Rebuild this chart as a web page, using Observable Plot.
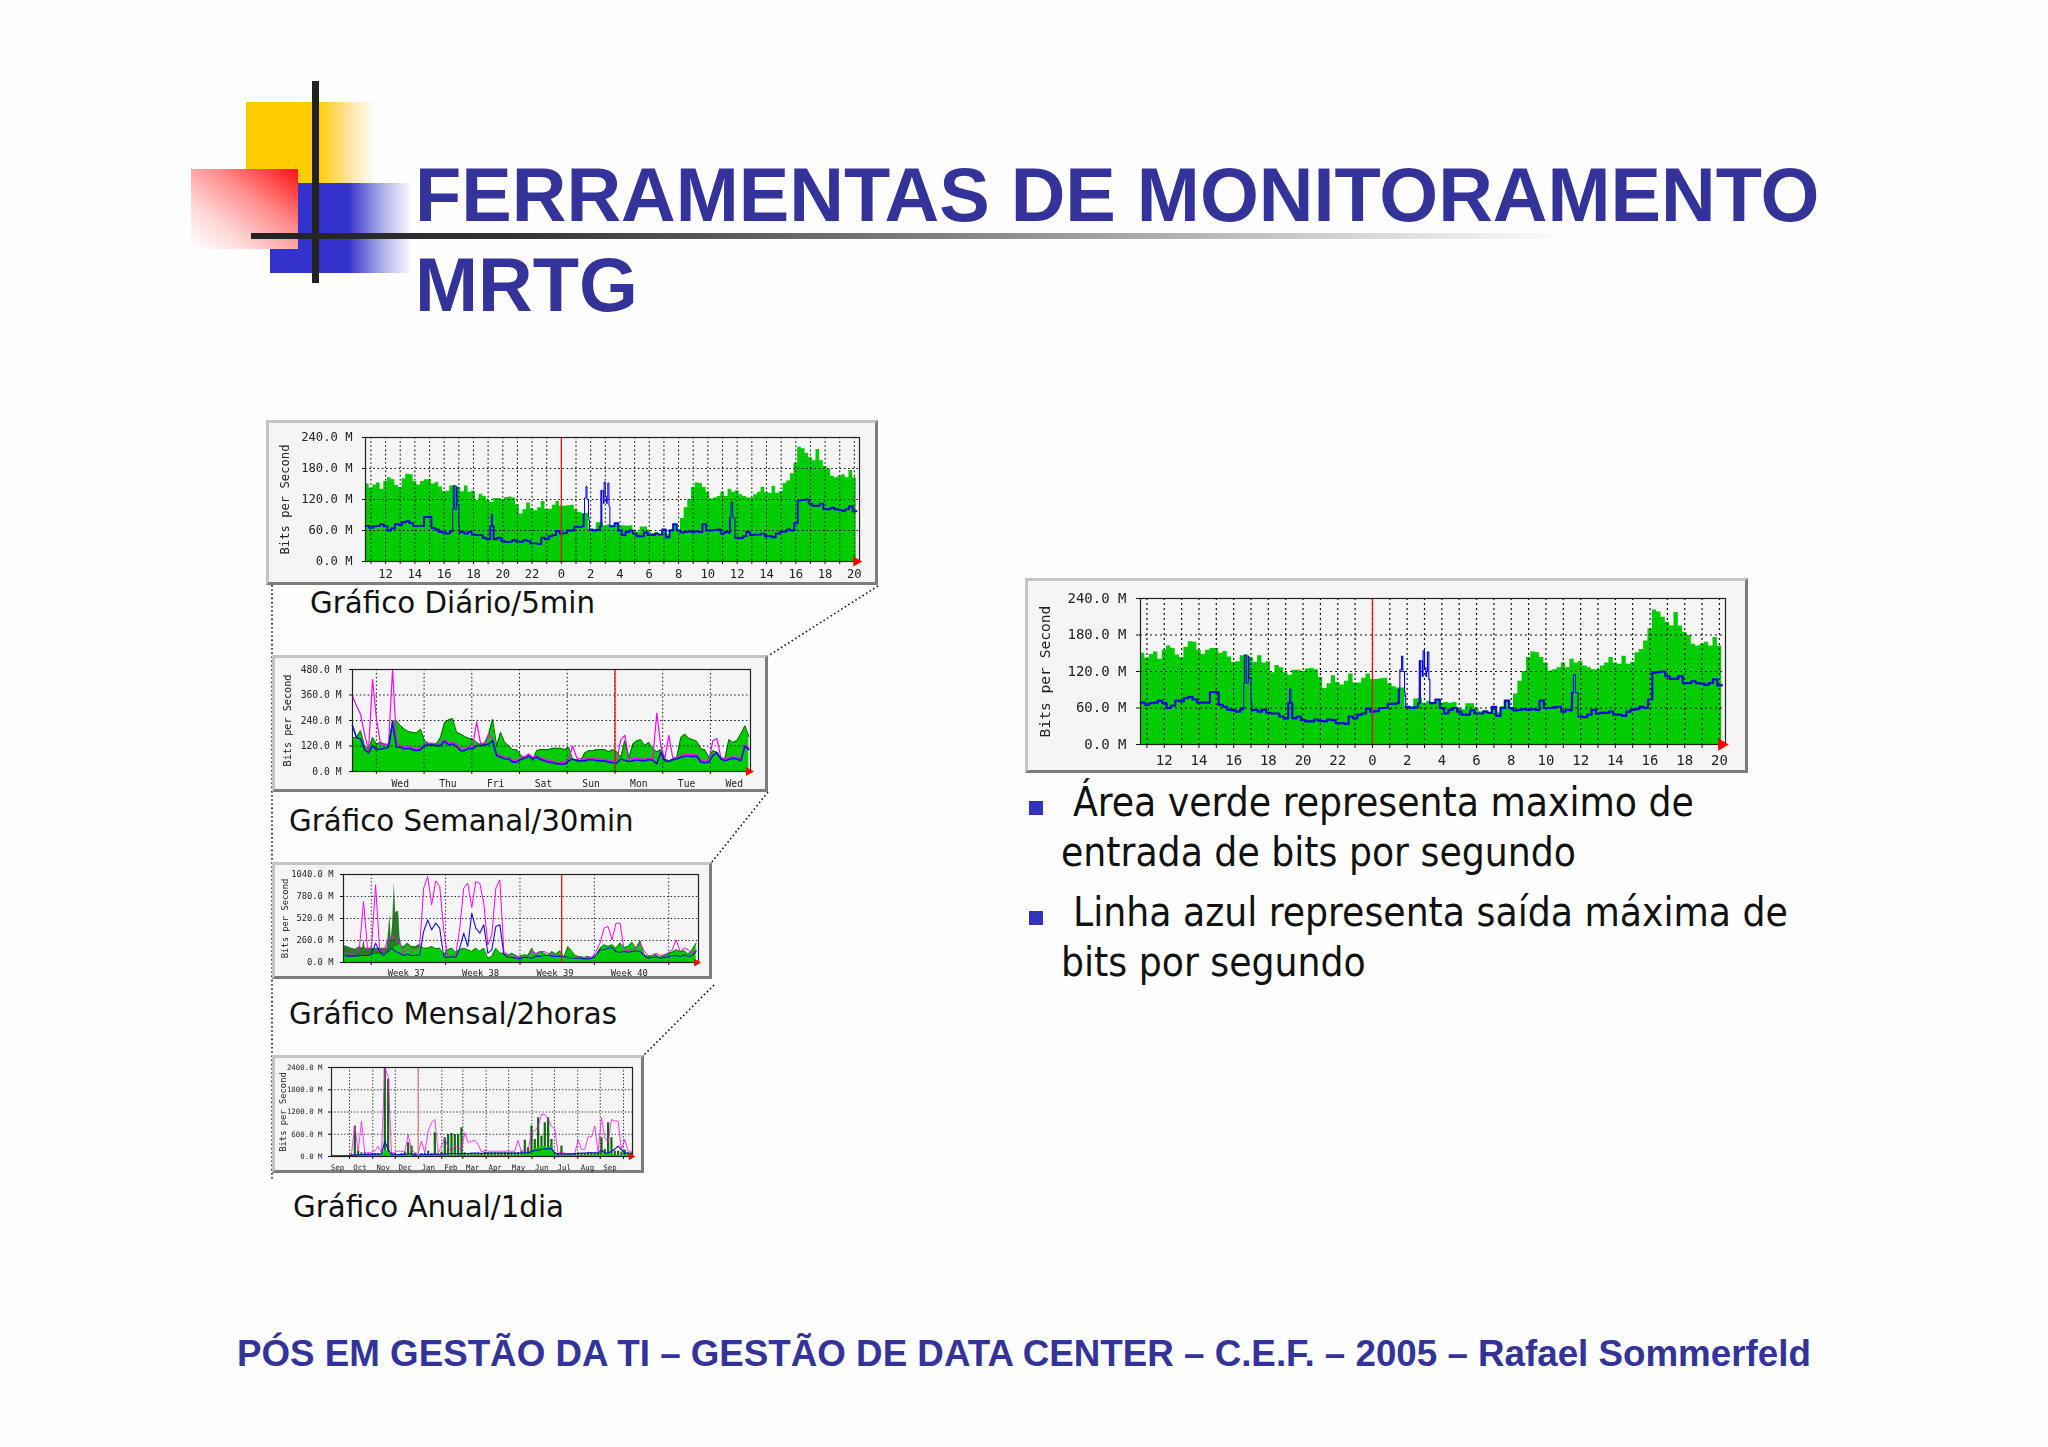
<!DOCTYPE html>
<html lang="pt">
<head>
<meta charset="utf-8">
<title>Ferramentas de monitoramento MRTG</title>
<script src="https://cdn.jsdelivr.net/npm/d3@7"></script>
<script src="https://cdn.jsdelivr.net/npm/@observablehq/plot@0.6"></script>
<style>
html,body{margin:0;padding:0;background:#fff}
#page{position:relative;width:2048px;height:1447px;overflow:hidden;background:#fefefe}
#page>*{position:absolute}
.title{left:415px;font:bold 75.7px/90px "Liberation Sans",Arial,sans-serif;color:#333399;white-space:nowrap}
.foot{left:237px;top:1332px;font:bold 36.74px/44px "Liberation Sans",Arial,sans-serif;color:#333399;white-space:nowrap}
.cap{font:29.3px/40px "DejaVu Sans",sans-serif;color:#111;white-space:nowrap}
.bul{font:40.3px/50px "DejaVu Sans Condensed","DejaVu Sans",sans-serif;color:#111;white-space:nowrap}
.sq{width:14px;height:14px;background:#3333bb}
.panel{box-sizing:border-box;background:#f5f5f5;border:3px solid;border-color:#c4c4c4 #7c7c7c #7c7c7c #c4c4c4}
.panel svg{position:absolute;left:-3px;top:-3px;overflow:visible;max-width:none !important;filter:blur(.35px)}
</style>
</head>
<body>
<div id="page">
  <div style="left:246px;top:102px;width:131px;height:81px;background:linear-gradient(to right,#ffcc00 0,#ffcc00 55%,#ffe3a0 78%,rgba(255,255,255,0) 100%)"></div>
  <div style="left:270px;top:183px;width:142px;height:90px;background:linear-gradient(to right,#3333cc 0,#3333cc 55%,#aaaae6 78%,rgba(255,255,255,0) 100%)"></div>
  <div style="left:191px;top:169px;width:107px;height:80px;background:linear-gradient(to bottom left,#ff1010 0,#ff8a8a 38%,#ffd8d8 72%,#fff 100%)"></div>
  <div style="left:312px;top:81px;width:7px;height:202px;background:#222"></div>
  <div style="left:251px;top:233px;width:1320px;height:6px;background:linear-gradient(to right,#222 0,#333 20%,#888 55%,#ccc 80%,rgba(255,255,255,0) 100%)"></div>

  <div class="title" style="top:150px">FERRAMENTAS DE MONITORAMENTO</div>
  <div class="title" style="top:240px">MRTG</div>

  <svg style="left:0;top:0" width="2048" height="1447" fill="none" stroke="#111" stroke-width="1.6" stroke-dasharray="1.6 2.6">
    <path d="M272 585V1180"/>
    <path d="M878 586L768 656"/>
    <path d="M768 792L712 862"/>
    <path d="M714 985L644 1055"/>
  </svg>

  <div class="cap" style="left:310px;top:583px">Gráfico Diário/5min</div>
  <div class="cap" style="left:289px;top:801px">Gráfico Semanal/30min</div>
  <div class="cap" style="left:289px;top:994px">Gráfico Mensal/2horas</div>
  <div class="cap" style="left:293px;top:1187px">Gráfico Anual/1dia</div>

  <div class="sq" style="left:1029px;top:801px"></div>
  <div class="bul" style="left:1073px;top:778px">Área verde representa maximo de</div>
  <div class="bul" style="left:1061px;top:828px">entrada de bits por segundo</div>
  <div class="sq" style="left:1029px;top:911px"></div>
  <div class="bul" style="left:1073px;top:888px">Linha azul representa saída máxima de</div>
  <div class="bul" style="left:1061px;top:938px">bits por segundo</div>

  <div class="foot">PÓS EM GESTÃO DA TI – GESTÃO DE DATA CENTER – C.E.F. – 2005 – Rafael Sommerfeld</div>
</div>
<script>
// ---------- Daily graph (same data in the small and the enlarged picture), Mbit/s, one sample each 15 min
const dayInMax = [
  150,142,148,152,140,155,162,158,147,143,160,169,168,155,148,155,158,158,150,153,
  144,135,136,146,147,143,135,146,134,136,118,130,126,118,114,122,122,120,124,125,
  123,110,92,100,113,102,98,
  104,116,101,101,109,116,107,107,108,109,100,95,93,93,61,62,75,76,68,71,
  69,72,68,69,68,69,60,57,67,67,60,54,56,52,60,52,62,72,60,83,
  104,120,143,152,151,143,134,
  121,123,126,134,126,140,134,137,129,126,123,123,129,134,143,134,132,145,132,135,
  151,156,170,190,221,218,209,201,195,217,195,184,179,165,162,165,168,162,176,162,160
];
const dayOutMax = [
  69,65,68,69,72,68,60,64,72,71,76,78,74,69,69,69,86,86,65,62,
  57,56,54,58,147,110,57,54,57,52,51,51,46,43,43,43,46,40,38,38,
  41,39,38,41,40,35,35,
  34,46,43,49,51,59,54,55,60,60,67,67,68,123,80,60,61,68,112,120,
  68,74,60,51,57,60,54,49,49,56,51,51,54,52,62,47,60,72,60,56,
  57,58,57,58,57,72,60,
  60,61,62,54,57,56,115,46,45,49,57,51,52,52,54,49,49,47,54,57,
  58,62,60,74,118,119,120,112,108,108,112,101,101,104,101,100,98,101,107,97,98
];
const daySpikeHours  = [-7.45,-7.42,-7.38,-7.3,-7.28,-7.2,-7.15,-7.1,-7.0,-6.95,-4.85,-4.78,-4.7,1.52,1.58,1.68,1.75,1.85,1.92,2.73,2.87,2.92,3.0,3.08,3.17,3.25,3.31,11.5,11.58,11.65,11.7,11.8,11.85];
const daySpikeValues = [60,101,147,147,101,101,145,110,70,56,68,91,68,90,123,145,120,87,62,137,112,154,126,112,152,107,68,85,115,115,85,85,46];
const daySpikeWindows = [[-7.45,-6.95],[-4.85,-4.7],[1.52,1.92],[2.73,3.31],[11.5,11.85]];
const dayHourTicks = d3.range(-13,21);

// ---------- Weekly graph, Mbit/s
const weekIn = [
  160,160,192,122,103,160,129,137,129,122,238,238,215,199,187,184,181,199,145,132,
  129,132,160,231,243,249,184,176,165,156,153,137,125,129,176,246,122,184,137,122,
  103,103,78,62,67,51,98,103,103,103,109,109,109,103,114,56,56,51,87,98,
  98,103,103,103,93,103,93,67,145,59,129,145,150,122,137,106,93,103,59,51,
  59,67,160,176,156,150,142,106,103,67,98,90,59,59,150,137,145,176,215,165
];
const weekOut = [
  215,160,153,103,87,122,103,106,109,114,230,114,114,106,109,103,98,103,122,126,
  125,122,122,142,125,129,118,98,98,109,106,122,122,125,129,145,75,67,59,59,
  44,44,56,62,75,59,67,56,50,44,41,36,36,34,51,59,51,50,50,55,
  55,51,50,50,44,41,39,59,53,47,50,55,51,50,56,53,36,90,51,47,
  55,59,67,72,72,70,72,44,41,44,75,90,59,51,56,62,59,51,118,103
];
const weekOutMax = [
  355,308,270,176,98,433,246,129,129,129,480,137,122,114,118,111,106,111,130,134,
  133,130,130,150,133,137,126,106,106,117,114,234,130,135,176,153,83,75,67,67,
  52,52,64,70,83,67,75,64,58,52,49,44,44,42,59,120,65,58,58,63,
  63,59,58,58,52,49,47,150,170,65,58,63,59,58,64,61,275,120,60,170,
  63,67,75,80,80,78,80,52,49,52,145,155,67,59,64,70,67,59,126,111
];
const weekDayTicks = [-5,-4,-3,-2,-1,0,1,2];
const weekLabelDays = [-4.5,-3.5,-2.5,-1.5,-0.5,0.5,1.5,2.5];
const weekDayNames = ["Wed","Thu","Fri","Sat","Sun","Mon","Tue","Wed"];

// ---------- Monthly graph, Mbit/s
const monthIn = [
  169,83,83,83,83,83,83,98,110,110,91,130,169,201,229,169,217,169,169,201,
  169,169,189,162,169,91,150,169,122,150,169,150,130,169,130,169,51,71,169,110,
  110,83,110,83,59,91,83,169,83,130,110,83,130,98,138,59,189,130,71,71,
  59,71,51,83,169,209,189,209,169,229,177,189,240,169,256,91,71,83,91,59,
  83,110,122,150,130,138,98,150,229
];
const monthPeakWeeks  = [-.373,-.319,-.265,-.211,-.157,-.117,-.099,-.081,-.049,.004,.058,.112,.166,.211,.233,.251,.269,.287,.31,.328,.35,.368,.386,.413,.489,.543,.597,.651];
const monthPeakValues = [201,189,169,158,189,169,268,169,169,169,169,169,169,169,366,563,268,445,938,583,603,603,307,169,229,189,189,217];
const monthOut = [
  91,71,75,75,79,83,83,98,229,130,83,130,169,130,110,83,98,83,83,91,
  366,504,386,465,406,71,59,67,59,169,347,189,583,406,347,445,110,150,426,445,
  98,59,59,51,43,59,59,51,75,71,83,83,75,71,75,71,59,51,51,51,
  43,43,51,91,150,150,169,177,130,122,130,122,130,138,130,83,51,59,67,51,
  59,71,79,83,71,91,71,83,130
];
const monthOutMax = [
  110,110,98,106,189,721,150,189,918,150,130,268,307,288,229,110,169,122,150,189,
  879,1017,682,965,898,386,71,83,91,406,879,938,650,957,938,700,209,327,879,977,
  130,98,71,59,83,83,71,130,110,130,130,110,98,83,83,71,83,83,83,59,
  59,59,67,130,229,406,426,268,465,465,150,138,150,169,229,138,83,83,110,83,
  91,110,150,268,130,169,150,110,150
];
const monthWeekTicks = [0,1,2,3,4];
const monthLabelWeeks = [0.47,1.47,2.47,3.47];
const monthWeekLabels = ["Week 37","Week 38","Week 39","Week 40"];

// ---------- Yearly graph, Mbit/s, day index
const yearIn = [
  0,0,0,0,0,0,27,36,27,27,27,27,27,27,36,36,170,145,27,27,27,27,27,54,36,27,
  27,27,27,27,27,36,27,27,36,27,36,36,36,45,27,27,36,36,36,27,
  27,27,27,27,27,27,27,27,27,27,27,36,45,54,150,210,235,270,260,235,
  280,80,27,27,27,27,27,27,27,27,27,27,36,36,27,63,45,80,63,36,36,27,36,45,54
];
const yearInMax = [
  0,0,0,0,0,0,54,820,144,99,99,81,81,81,81,81,2400,2080,99,81,54,81,117,370,280,81,
  63,81,81,144,81,640,63,117,505,595,620,595,595,775,99,81,81,81,81,81,
  117,99,99,99,99,99,99,99,99,99,99,144,440,235,820,460,1045,550,910,1045,
  460,99,81,280,81,81,81,81,99,81,81,99,99,99,99,505,190,910,505,144,144,117,171,99,99
];
const yearOut = [
  18,18,18,18,18,18,36,45,45,54,54,54,54,63,63,72,415,190,54,54,54,54,54,81,72,45,
  45,54,54,54,54,72,63,54,72,72,81,81,72,72,81,81,90,90,90,81,
  90,90,90,90,90,90,90,90,90,90,90,90,99,99,135,165,171,190,200,210,
  210,90,72,72,72,72,72,72,81,90,90,99,99,99,90,170,90,99,135,200,280,180,90,90,81
];
const yearOutMax = [
  18,18,18,18,18,18,81,820,144,956,99,99,117,144,280,99,2400,2165,81,117,144,144,117,595,190,99,
  81,415,99,685,910,1000,99,280,505,235,144,280,235,190,640,370,415,440,325,117,
  171,144,144,144,144,144,144,144,144,144,440,117,190,171,640,685,820,1135,1135,1000,
  820,730,81,117,81,81,81,81,460,190,190,530,530,820,100,1045,505,370,1000,955,955,190,460,144,144
];
const yearMonthTicks = [24,55,85,116,147,175,206,236,267,297,328,358,389];
const yearLabelDays  = [8,38,69,98,129,159,188,218,249,280,310,341,371];
const yearMonthNames = ["Sep","Oct","Nov","Dec","Jan","Feb","Mar","Apr","May","Jun","Jul","Aug","Sep"];

// ---------- Shared drawing of one MRTG picture
const mbFormat = d => `${d.toFixed(1)} M`;
const GREEN = "#00cc00", DARK = "#006600", BLUE = "#0000ee", MAGENTA = "#ff00ff", RED = "#f01010";

function mrtg(o) {
  const [fl, ft, fr, fb] = o.frame, [pl, pt, pr, pb] = o.plot;
  const marks = [
    ...o.under,
    Plot.ruleY(o.yTicks, {stroke: "#111", strokeWidth: o.gridWidth, strokeDasharray: o.dash}),
    Plot.ruleX(o.xGrid, {stroke: "#111", strokeWidth: o.gridWidth, strokeDasharray: o.dash}),
    ...o.over,
    Plot.ruleX([o.redAt], {stroke: o.red ?? RED, strokeWidth: o.redWidth ?? 1.3}),
    Plot.frame({stroke: "#222", strokeWidth: o.frameWidth ?? 1.2}),
    Plot.axisY({ticks: o.yTicks, tickFormat: mbFormat, tickSize: o.tickSize, tickPadding: o.yPad, fontSize: o.font, label: null, stroke: "#111"}),
    Plot.axisX({ticks: o.xGrid, tickFormat: o.xFormat ?? (() => ""), tickSize: o.tickSize, tickPadding: o.xPad, fontSize: o.font, label: null, stroke: "#111", anchor: "bottom"}),
    ...(o.xLabels ? [Plot.axisX({ticks: o.xLabels, tickFormat: o.xLabelFormat, tickSize: 0, tickPadding: o.xPad + o.tickSize, fontSize: o.font, label: null, anchor: "bottom"})] : []),
    Plot.dot([0], {x: () => o.arrowAt, y: 0, symbol: "triangle", rotate: 90, r: o.arrowR, fill: "#ff0000", stroke: null}),
    Plot.text(["Bits per Second"], {frameAnchor: "left", textAnchor: "middle", rotate: -90, dx: o.labelX - pl, fontSize: o.labelFont, fill: "#222"})
  ];
  const svg = Plot.plot({
    width: fr - fl, height: fb - ft,
    marginLeft: pl - fl, marginRight: fr - pr, marginTop: pt - ft, marginBottom: fb - pb,
    x: {domain: o.xDomain}, y: {domain: [0, o.yTicks[o.yTicks.length - 1]]},
    style: {background: "transparent", fontFamily: "'DejaVu Sans Mono',monospace", color: "#222", overflow: "visible"},
    marks
  });
  const box = document.createElement("div");
  box.className = "panel";
  Object.assign(box.style, {left: fl + "px", top: ft + "px", width: fr - fl + "px", height: fb - ft + "px"});
  box.append(svg);
  document.getElementById("page").append(box);
}

// Daily rows: regular samples and the short spikes that fall between them
const dayStart = -13.37, dayStep = 0.25;
const dayHour = (d, i) => dayStart + i * dayStep;
const dayOutRows = [
  ...dayOutMax.map((v, i) => ({h: dayHour(v, i), v})),
  ...daySpikeHours.map((h, i) => ({h, v: daySpikeValues[i]}))
].sort((a, b) => a.h - b.h);
const inSpike = h => daySpikeWindows.some(([a, b]) => h > a && h < b);
const dayLabel = h => h % 2 ? "" : String((h + 24) % 24);

function dailyChart(frame, plot, s) {
  mrtg({
    frame, plot, xDomain: [-13.37, 20.35], yTicks: [0, 60, 120, 180, 240], xGrid: dayHourTicks, xFormat: dayLabel,
    redAt: 0, arrowAt: 20.13, dash: s.dash, gridWidth: s.grid, font: s.font, tickSize: s.tick, yPad: s.yPad, xPad: s.xPad,
    labelX: s.labelX, labelFont: s.labelFont, arrowR: s.arrow,
    under: [Plot.areaY(dayInMax, {x: dayHour, y: d => d, fill: GREEN, curve: "step-after"})],
    over: [
      Plot.line(dayOutRows, {x: "h", y: "v", stroke: BLUE, strokeWidth: s.thin, curve: "step-after"}),
      Plot.line(dayOutRows, {x: "h", y: d => inSpike(d.h) ? NaN : d.v, stroke: "#0a0ad8", strokeWidth: s.line, curve: "step-after"})
    ]
  });
}
dailyChart([1025, 578, 1748, 773], [1140, 598, 1725, 744], {dash: "2 3", grid: 1.2, font: 14, tick: 4, yPad: 10, xPad: 7, labelX: 1045, labelFont: 14.6, arrow: 4.6, line: 2.2, thin: 1.1});
dailyChart([266, 420, 878, 585], [365, 437, 859, 561], {dash: "1.6 2.6", grid: 1.1, font: 12.2, tick: 3, yPad: 10, xPad: 5, labelX: 285, labelFont: 12.2, arrow: 3.8, line: 1.9, thin: 1});

// Weekly
const weekX = (d, i) => -5.5 + i * 0.0839;
mrtg({
  frame: [272, 655, 768, 792], plot: [352, 669, 750, 771], xDomain: [-5.5, 2.84], yTicks: [0, 120, 240, 360, 480],
  xGrid: weekDayTicks, redAt: 0, arrowAt: 2.8, dash: "1.5 2.4", gridWidth: 1, font: 9.7, tickSize: 3, yPad: 8, xPad: 6,
  xLabels: weekLabelDays, xLabelFormat: (d, i) => weekDayNames[i],
  labelX: 287, labelFont: 10.2, arrowR: 3.4,
  under: [
    Plot.areaY(weekIn, {x: weekX, y: d => d, fill: GREEN}),
    Plot.lineY(weekIn, {x: weekX, y: d => d, stroke: DARK, strokeWidth: 1})
  ],
  over: [
    Plot.lineY(weekOutMax, {x: weekX, y: d => d, stroke: MAGENTA, strokeWidth: 1.2}),
    Plot.lineY(weekOut, {x: weekX, y: d => d, stroke: "#1010e0", strokeWidth: 1.6})
  ]
});

// Monthly
const monthX = (d, i) => (15 + i * 12 - 98) / 222.7;
mrtg({
  frame: [272, 862, 712, 979], plot: [343, 874, 698, 962], xDomain: [-0.373, 4.4], yTicks: [0, 260, 520, 780, 1040],
  xGrid: monthWeekTicks, redAt: 2.56, arrowAt: 4.37, dash: "1.4 2.2", gridWidth: 0.9, font: 8.8, tickSize: 3, yPad: 7, xPad: 4,
  xLabels: monthLabelWeeks, xLabelFormat: (d, i) => monthWeekLabels[i],
  labelX: 285, labelFont: 8.8, arrowR: 3,
  under: [
    Plot.areaY(monthPeakValues, {x: (d, i) => monthPeakWeeks[i], y: d => d, fill: "#2a7a2a"}),
    Plot.areaY(monthIn, {x: monthX, y: d => d, fill: GREEN}),
    Plot.lineY(monthIn, {x: monthX, y: d => d, stroke: DARK, strokeWidth: 0.8})
  ],
  over: [
    Plot.lineY(monthOutMax, {x: monthX, y: d => d, stroke: MAGENTA, strokeWidth: 1}),
    Plot.lineY(monthOut, {x: monthX, y: d => d, stroke: "#1414d8", strokeWidth: 1.1})
  ]
});

// Yearly
const yearX = (d, i) => i * 4.44;
mrtg({
  frame: [272, 1055, 644, 1173], plot: [331, 1067, 632, 1156], xDomain: [0, 401], yTicks: [0, 600, 1200, 1800, 2400],
  xGrid: yearMonthTicks, redAt: 115.4, red: "#e08888", arrowAt: 399, dash: "1.3 2", gridWidth: 0.9, font: 7.4, tickSize: 3, yPad: 6, xPad: 5,
  xLabels: yearLabelDays, xLabelFormat: (d, i) => yearMonthNames[i],
  labelX: 283, labelFont: 8.8, arrowR: 2.8,
  under: [
    Plot.ruleX(yearInMax, {x: yearX, y1: 0, y2: d => d, stroke: "#0b6e0b", strokeWidth: 2.2}),
    Plot.areaY(yearIn, {x: yearX, y: d => d, fill: GREEN})
  ],
  over: [
    Plot.lineY(yearOutMax, {x: yearX, y: d => d, stroke: MAGENTA, strokeWidth: 0.9, strokeOpacity: 0.85}),
    Plot.lineY(yearOut, {x: yearX, y: d => d, stroke: "#1414c8", strokeWidth: 1.2})
  ]
});
</script>
</body>
</html>
